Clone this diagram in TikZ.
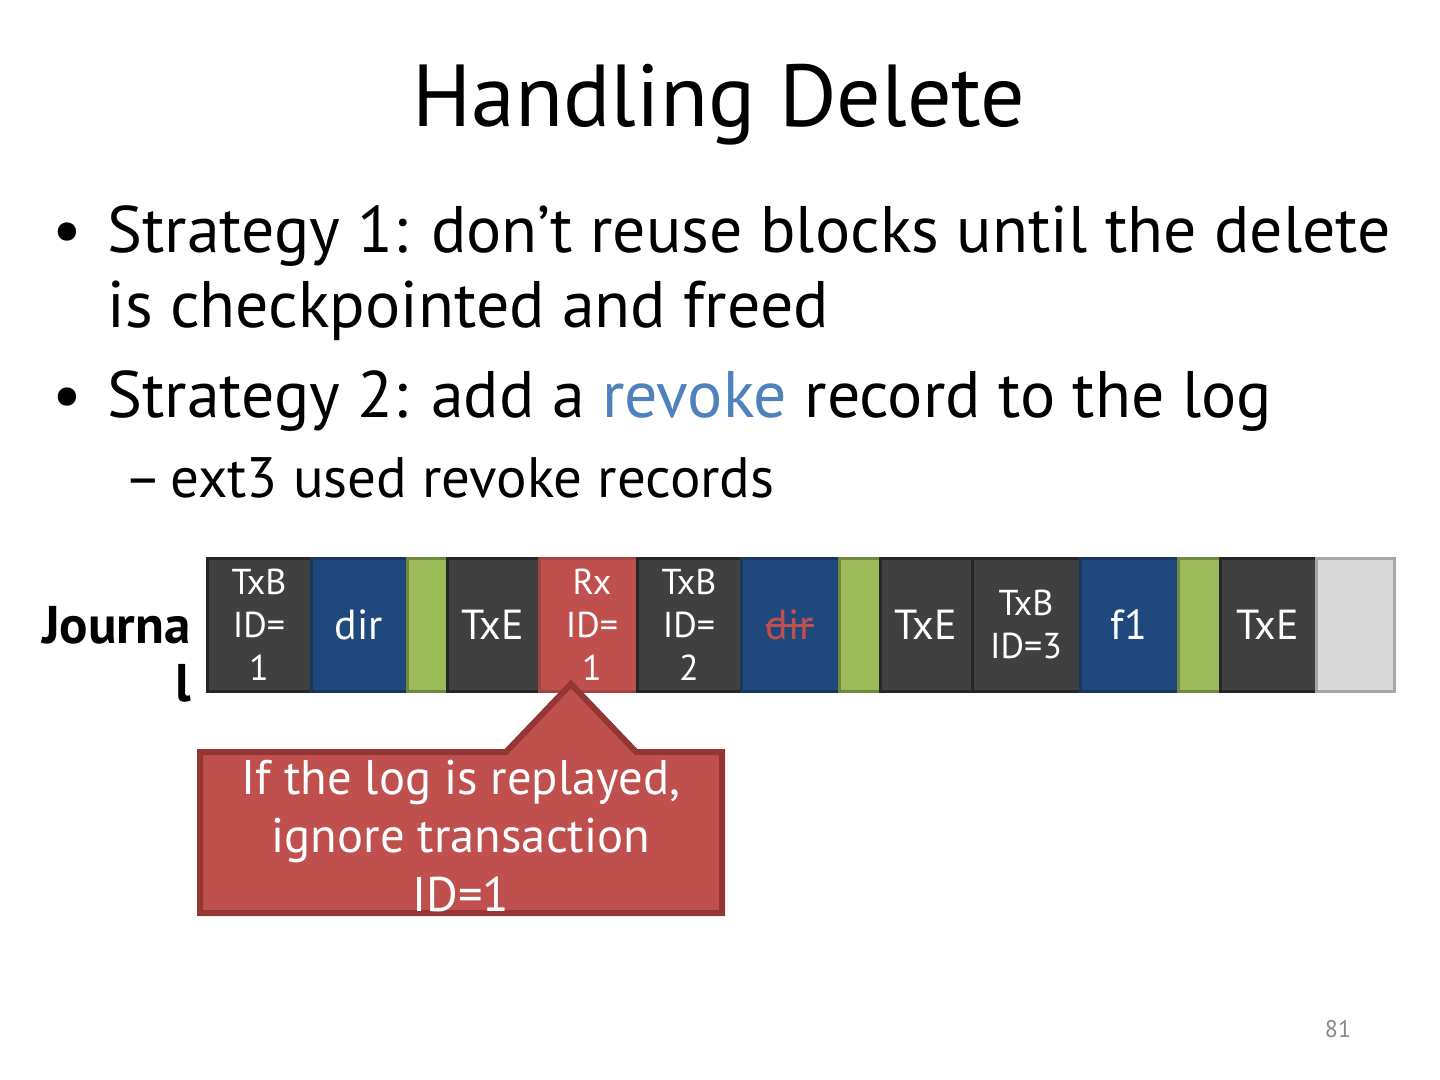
\documentclass[tikz,border=0pt]{standalone}
\usepackage{fontspec}
\setmainfont{PT Sans}
\newcommand\mystrike[1]{\sbox0{#1}\rlap{\usebox0}\rule[0.3em]{\wd0}{0.07em}}
\definecolor{cdark}{HTML}{404040}
\definecolor{cdarkb}{HTML}{262626}
\definecolor{cblue}{HTML}{1F497D}
\definecolor{cblueb}{HTML}{17375E}
\definecolor{cgreen}{HTML}{9BBB59}
\definecolor{cgreenb}{HTML}{71893F}
\definecolor{cred}{HTML}{C0504D}
\definecolor{credb}{HTML}{943634}
\definecolor{cgray}{HTML}{D9D9D9}
\definecolor{cgrayb}{HTML}{A6A6A6}
\definecolor{crevoke}{HTML}{4F81BD}
\definecolor{cpage}{HTML}{898989}
\tikzset{
  blk/.style={draw, line width=1.5pt, minimum height=66.5pt, inner sep=0pt, align=center, text=white},
  darkblk/.style={blk, fill=cdark, draw=cdarkb},
  blueblk/.style={blk, fill=cblue, draw=cblueb},
  greenblk/.style={blk, fill=cgreen, draw=cgreenb},
  redblk/.style={blk, fill=cred, draw=cred!85!black},
  grayblk/.style={blk, fill=cgray, draw=cgrayb},
  small/.style={font=\fontsize{18}{21.5}\selectfont},
  big/.style={font=\fontsize{21}{25}\selectfont},
  bullettext/.style={anchor=base west, inner sep=0pt, font=\fontsize{32.9}{38}\selectfont},
  subtext/.style={anchor=base west, inner sep=0pt, font=\fontsize{28.5}{34}\selectfont},
}
\begin{document}
\begin{tikzpicture}[x=0.5pt,y=-0.5pt]
\useasboundingbox[fill=white] (0,0) rectangle (1440,1080);

% title
\node[anchor=base, inner sep=0pt, font=\fontsize{44}{52}\selectfont] (title) at (719,127) {Handling Delete};

% bullets
\node[bullettext] (bul1) at (52,253) {•};
\node[bullettext] (l1) at (107,253) {Strategy 1: don’t reuse blocks until the delete};
\node[bullettext] (l2) at (107,328) {is checkpointed and freed};
\node[bullettext] (bul2) at (52,418) {•};
\node[bullettext] (l3) at (107,418) {Strategy 2: add a \textcolor{crevoke}{revoke} record to the log};
\node[subtext] (dash) at (124,497) {–};
\node[subtext] (l4) at (170,497) {ext3 used revoke records};

% journal label
\node[anchor=base east, inner sep=0pt, font=\bfseries\fontsize{26.5}{31}\selectfont] (jl1) at (191,643) {Journa};
\node[anchor=base east, inner sep=0pt, font=\bfseries\fontsize{26.5}{31}\selectfont] (jl2) at (191,701) {l};

% journal blocks
\node[darkblk, small, minimum width=52pt] (b1) at (259,624.5) {TxB\\ID=\\1};
\node[blueblk, big, minimum width=48pt] (b2) at (359,624.5) {dir};
\node[greenblk, minimum width=20pt] (b3) at (427,624.5) {};
\node[darkblk, big, minimum width=46pt] (b4) at (493,624.5) {TxE};
\node[redblk, small, minimum width=49pt] (b5) at (588,624.5) {\hspace*{4pt}Rx\\\hspace*{4pt}ID=\\\hspace*{4pt}1};
\node[darkblk, small, minimum width=52pt] (b6) at (689,624.5) {TxB\\ID=\\2};
\node[blueblk, big, minimum width=49pt, text=cred] (b7) at (790,624.5) {\mystrike{dir}};
\node[greenblk, minimum width=20.5pt] (b8) at (859.5,624.5) {};
\node[darkblk, big, minimum width=46pt] (b9) at (926,624.5) {TxE};
\node[darkblk, small, minimum width=54pt] (b10) at (1026,624.5) {TxB\\ID=3};
\node[blueblk, big, minimum width=49pt] (b11) at (1129,624.5) {f1};
\node[greenblk, minimum width=21pt] (b12) at (1199,624.5) {};
\node[darkblk, big, minimum width=48pt] (b13) at (1268,624.5) {TxE};
\node[grayblk, minimum width=39pt] (b14) at (1355,624.5) {};

% callout
\coordinate (tip) at (571,684);
\draw[line width=3pt, draw=credb, fill=cred, line join=miter]
  (200,752) -- (506,752) -- (tip) -- (636,752) -- (722,752) -- (722,913) -- (200,913) -- cycle;
\node[anchor=center, inner sep=0pt, text=white, align=center, font=\fontsize{24.3}{29.2}\selectfont] (callout) at (461,836)
  {If the log is replayed,\\ignore transaction\\ID=1};

% page number
\node[anchor=base, inner sep=0pt, text=cpage, font=\fontsize{12}{14}\selectfont] (pg) at (1338,1037) {81};
\end{tikzpicture}
\end{document}
